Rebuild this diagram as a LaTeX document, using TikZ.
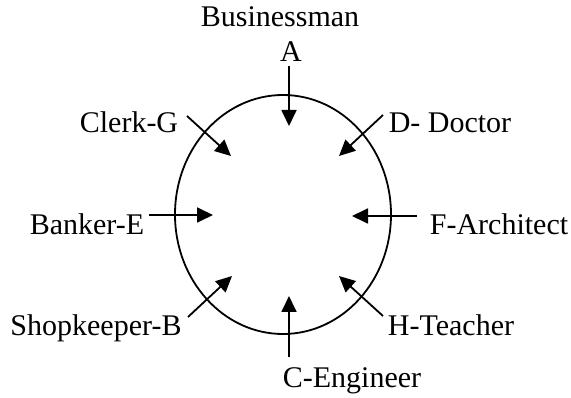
\documentclass[tikz,border=0pt]{standalone}
\usepackage{fontspec}
\setmainfont{Liberation Serif}
\usetikzlibrary{arrows.meta}
\begin{document}
\begin{tikzpicture}[x=1pt,y=-1pt,
  lbl/.style={anchor=base,inner sep=0pt,font=\fontsize{30}{36}\selectfont},
  arr/.style={line width=1.8pt,-{Triangle[length=16pt,width=15pt]}}]
\useasboundingbox (0,0) rectangle (571,398);
\draw[line width=1.8pt] (283,214.5) ellipse [x radius=108, y radius=119.5];
% labels
\node[lbl] (bus) at (280,27) {Businessman};
\node[lbl] (a) at (291,62) {A};
\node[lbl] (g) at (129,133) {Clerk-G};
\node[lbl] (d) at (450,133) {D- Doctor};
\node[lbl] (e) at (87,235) {Banker-E};
\node[lbl] (f) at (499,235) {F-Architect};
\node[lbl] (b) at (96,336) {Shopkeeper-B};
\node[lbl] (h) at (451,336) {H-Teacher};
\node[lbl] (c) at (352,388) {C-Engineer};
% arrow ends
\coordinate (a0) at (289,66);  \coordinate (a1) at (289,126);
\coordinate (c0) at (289,357); \coordinate (c1) at (289,296);
\coordinate (e0) at (149,215); \coordinate (e1) at (213,215);
\coordinate (f0) at (417,216); \coordinate (f1) at (352,216);
\coordinate (g0) at (187,116); \coordinate (g1) at (231,156);
\coordinate (d0) at (383,115); \coordinate (d1) at (339,156);
\coordinate (b0) at (188,317); \coordinate (b1) at (232,276);
\coordinate (h0) at (383,316); \coordinate (h1) at (339,276);
\foreach \n in {a,c,e,f,g,d,b,h} \draw[arr] (\n0) -- (\n1);
\end{tikzpicture}
\end{document}
